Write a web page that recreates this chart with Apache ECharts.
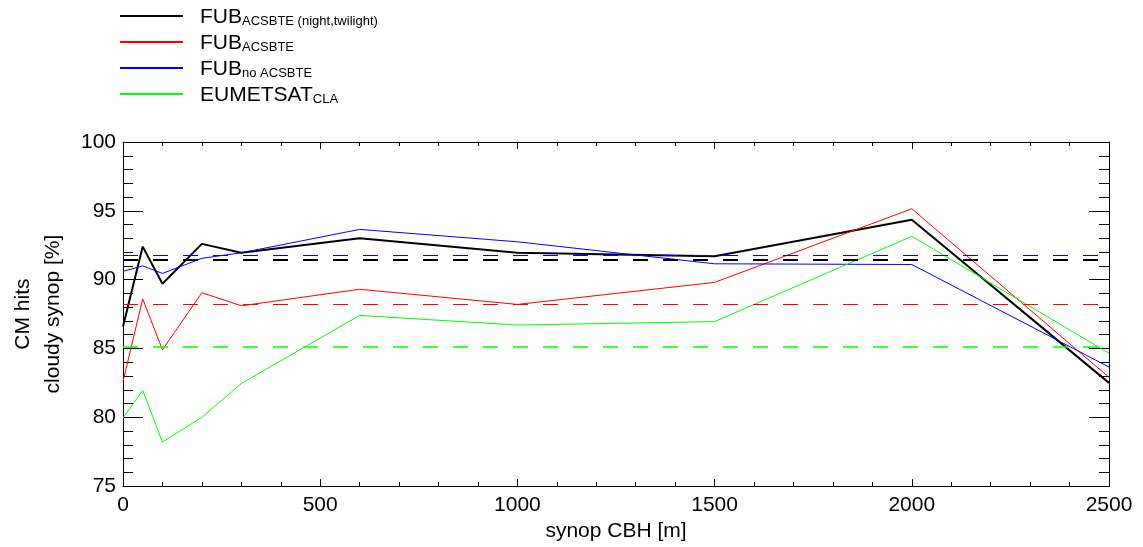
<!DOCTYPE html>
<html>
<head>
<meta charset="utf-8">
<script src="https://cdn.jsdelivr.net/npm/echarts@6/dist/echarts.min.js"></script>
<style>
html, body { margin: 0; padding: 0; background: #fff; }
#main { width: 1143px; height: 547px; }
</style>
</head>
<body>
<div id="main"></div>
<script>
// synop CBH [m]
var cbh = [0, 50, 100, 200, 300, 600, 1000, 1500, 2000, 2500];

var fubNight = [86.6, 92.4, 89.7, 92.6, 91.95, 93.0, 91.95, 91.7, 94.35, 82.5];
var fubAcs   = [82.6, 88.6, 84.9, 89.05, 88.1, 89.3, 88.2, 89.8, 95.15, 82.9];
var fubNoAcs = [90.6, 91.0, 90.45, 91.55, 91.95, 93.65, 92.75, 91.15, 91.1, 83.65];
var eumCla   = [79.95, 81.95, 78.2, 80.0, 82.45, 87.4, 86.7, 86.95, 93.15, 84.65];

// mean values (dashed)
var meanNight = 91.47;
var meanAcs   = 88.22;
var meanNoAcs = 91.78;
var meanCla   = 85.1;

var names = ['FUB night', 'FUB acs', 'FUB noacs', 'EUMETSAT'];
var legendText = {
	'FUB night': '{a|FUB}{b|ACSBTE (night,twilight)}',
	'FUB acs':   '{a|FUB}{b|ACSBTE}',
	'FUB noacs': '{a|FUB}{b|no ACSBTE}',
	'EUMETSAT':  '{a|EUMETSAT}{b|CLA}'
};

function pairs(ys) {
	var out = [];
	for (var i = 0; i < cbh.length; i++) {
		out.push([cbh[i], ys[i]]);
	}
	return out;
}

function makeSeries(name, ys, mean, color, width, dashWidth) {
	return {
		name: name,
		type: 'line',
		data: pairs(ys),
		symbol: 'none',
		animation: false,
		lineStyle: { color: color, width: width },
		itemStyle: { color: color },
		markLine: {
			silent: true,
			symbol: 'none',
			animation: false,
			label: { show: false },
			lineStyle: { color: color, width: dashWidth, type: [15, 15] },
			data: [{ yAxis: mean }]
		}
	};
}

var myChart = echarts.init(document.getElementById('main'));
var font = 'Liberation Sans, Arial, sans-serif';

var xCommon = {
	type: 'value',
	min: 0,
	max: 2500,
	interval: 500,
	splitLine: { show: false },
	axisLine: { show: true, onZero: false, lineStyle: { color: '#000', width: 1 } },
	axisTick: { show: true, inside: true, length: 7, lineStyle: { color: '#000' } },
	minorTick: { show: true, splitNumber: 5, length: 4, lineStyle: { color: '#000' } },
	minorSplitLine: { show: false }
};
var yCommon = {
	type: 'value',
	min: 75,
	max: 100,
	interval: 5,
	splitLine: { show: false },
	axisLine: { show: true, onZero: false, lineStyle: { color: '#000', width: 1 } },
	axisTick: { show: true, inside: true, length: 20, lineStyle: { color: '#000' } },
	minorTick: { show: true, splitNumber: 5, length: 10, lineStyle: { color: '#000' } },
	minorSplitLine: { show: false }
};

var option = {
	backgroundColor: '#fff',
	textStyle: { fontFamily: font },
	grid: { left: 120, right: 34, top: 142, bottom: 58, containLabel: false },
	legend: {
		data: names,
		orient: 'vertical',
		left: 120,
		top: 7,
		padding: 0,
		icon: 'rect',
		itemWidth: 63,
		itemHeight: 2,
		itemGap: 5,
		formatter: function(n) { return legendText[n]; },
		textStyle: {
			color: '#000',
			padding: [0, 0, 0, 12],
			rich: {
				a: { fontSize: 21, fontFamily: font, color: '#000', lineHeight: 24, verticalAlign: 'bottom' },
				b: { fontSize: 13, fontFamily: font, color: '#000', lineHeight: 8, verticalAlign: 'bottom' }
			}
		}
	},
	xAxis: [
		Object.assign({}, xCommon, {
			position: 'bottom',
			name: 'synop CBH [m]',
			nameLocation: 'middle',
			nameGap: 30,
			nameTextStyle: { fontSize: 21, color: '#000', fontFamily: font },
			axisLabel: { fontSize: 21, color: '#000', margin: 9, fontFamily: font, formatter: function(v) { return String(v); } }
		}),
		Object.assign({}, xCommon, {
			position: 'top',
			axisLabel: { show: false }
		})
	],
	yAxis: [
		Object.assign({}, yCommon, {
			position: 'left',
			name: 'CM hits\ncloudy synop [%]',
			nameLocation: 'middle',
			nameGap: 55,
			nameTextStyle: { fontSize: 21, color: '#000', lineHeight: 30, fontFamily: font },
			axisLabel: { fontSize: 21, color: '#000', margin: 7, fontFamily: font }
		}),
		Object.assign({}, yCommon, {
			position: 'right',
			axisLabel: { show: false }
		})
	],
	series: [
		makeSeries(names[0], fubNight, meanNight, '#000000', 2, 2),
		makeSeries(names[1], fubAcs, meanAcs, '#ff0000', 1, 1),
		makeSeries(names[2], fubNoAcs, meanNoAcs, '#0000ff', 1, 1.2),
		makeSeries(names[3], eumCla, meanCla, '#00ff00', 1, 1.6)
	]
};
myChart.setOption(option);
</script>
</body>
</html>
